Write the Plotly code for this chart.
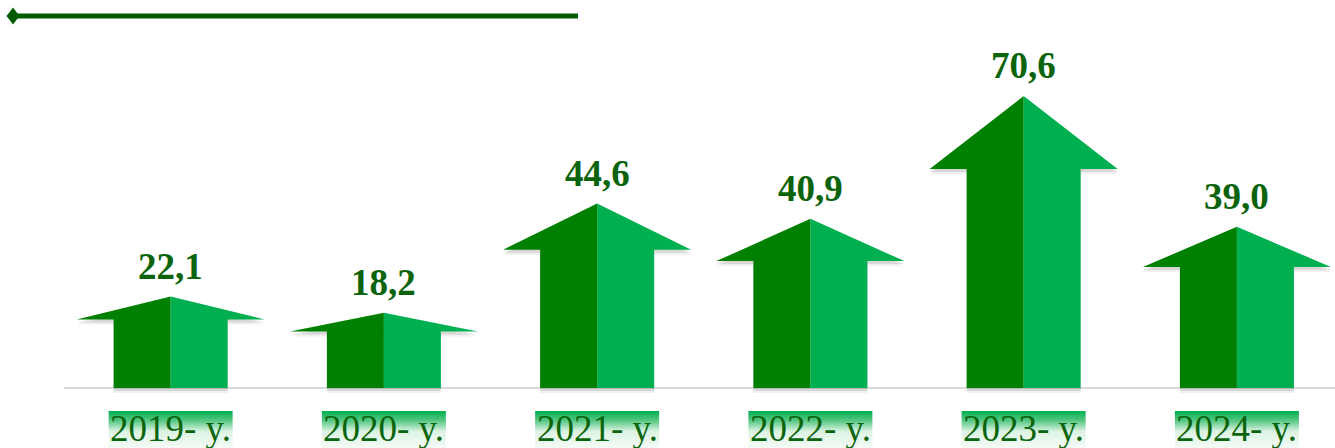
import plotly.graph_objects as go

# ---- data -------------------------------------------------------------
years = ["2019- y.", "2020- y.", "2021- y.", "2022- y.", "2023- y.", "2024- y."]
values = [22.1, 18.2, 44.6, 40.9, 70.6, 39.0]
value_labels = ["22,1", "18,2", "44,6", "40,9", "70,6", "39,0"]

# ---- geometry / style ---------------------------------------------------
W, H = 1335, 448
ML, MT = 64, 40
X_RANGE = [-0.5, 5.46]
Y_RANGE = [-14.51, 84.14]
px_x = (W - ML) / (X_RANGE[1] - X_RANGE[0])   # pixels per category step
px_y = (H - MT) / (Y_RANGE[1] - Y_RANGE[0])   # pixels per value unit

HEAD_HALF = 94 / px_x
SHAFT_HALF = 57 / px_x
HEAD_FRAC = 0.25

DARK = "#008000"
LIGHT = "#00b050"
TEXT_GREEN = "#0b640b"
SERIF = "Liberation Serif, Times New Roman, serif"

fig = go.Figure()


def arrow_outline(c, v, dy=0.0):
    neck = v * (1 - HEAD_FRAC)
    xs = [c - SHAFT_HALF, c - SHAFT_HALF, c - HEAD_HALF, c, c + HEAD_HALF,
          c + SHAFT_HALF, c + SHAFT_HALF, c - SHAFT_HALF]
    ys = [0, neck, neck, v, neck, neck, 0, 0]
    return xs, [y - dy for y in ys]


for i, v in enumerate(values):
    # soft drop shadow
    for off, alpha in ((5, 0.06), (3, 0.10)):
        sx, sy = arrow_outline(i, v, off / px_y)
        fig.add_trace(go.Scatter(x=sx, y=sy, fill="toself", mode="lines",
                                 line=dict(width=0),
                                 fillcolor=f"rgba(0,0,0,{alpha})",
                                 hoverinfo="skip"))
    neck = v * (1 - HEAD_FRAC)
    # left (dark) half
    fig.add_trace(go.Scatter(
        x=[i - SHAFT_HALF, i - SHAFT_HALF, i - HEAD_HALF, i, i, i - SHAFT_HALF],
        y=[0, neck, neck, v, 0, 0],
        fill="toself", mode="lines", line=dict(width=0), fillcolor=DARK,
        hoverinfo="skip"))
    # right (light) half
    fig.add_trace(go.Scatter(
        x=[i, i, i + HEAD_HALF, i + SHAFT_HALF, i + SHAFT_HALF, i],
        y=[0, v, neck, neck, 0, 0],
        fill="toself", mode="lines", line=dict(width=0), fillcolor=LIGHT,
        hoverinfo="skip"))

    # gradient tag behind the year label
    half_w = 62 / px_x
    top = -(411 - 388) / px_y
    bot = Y_RANGE[0]
    fig.add_trace(go.Scatter(
        x=[i - half_w, i + half_w, i + half_w, i - half_w, i - half_w],
        y=[bot, bot, top, top, bot],
        fill="toself", mode="lines", line=dict(width=0),
        fillgradient=dict(type="vertical",
                          colorscale=[[0, "#f4fbf6"], [0.45, "#dcf3e3"],
                                      [0.75, "#52c680"], [1, LIGHT]]),
        hoverinfo="skip"))

annotations = []
for i, (v, lab, yr) in enumerate(zip(values, value_labels, years)):
    annotations.append(dict(
        x=i, y=v, xref="x", yref="y", text=f"<b>{lab}</b>", showarrow=False,
        yanchor="bottom", yshift=8,
        font=dict(family=SERIF, size=37, color=TEXT_GREEN)))
    annotations.append(dict(
        x=i, y=-(429 - 388) / px_y, xref="x", yref="y", text=yr,
        showarrow=False, yanchor="middle",
        font=dict(family=SERIF, size=37, color=TEXT_GREEN)))

# header rule with diamond end
pw, ph = W - ML, H - MT
def to_paper(px, py):
    return (px - ML) / pw, (H - py) / ph

lx0, ly = to_paper(13, 16)
lx1, _ = to_paper(578, 16)
dx, dy = 6.5 / pw, 8.5 / ph
shapes = [
    dict(type="line", xref="paper", yref="paper", x0=lx0, x1=lx1, y0=ly, y1=ly,
         line=dict(color="#005c00", width=5)),
    dict(type="path", xref="paper", yref="paper", fillcolor="#005c00",
         line=dict(width=0),
         path=f"M {lx0 - dx} {ly} L {lx0} {ly + dy} L {lx0 + dx} {ly} "
              f"L {lx0} {ly - dy} Z"),
]

fig.update_layout(
    width=W, height=H, autosize=False,
    margin=dict(l=ML, r=0, t=MT, b=0),
    paper_bgcolor="white", plot_bgcolor="white",
    showlegend=False,
    xaxis=dict(range=X_RANGE, visible=False, fixedrange=True),
    yaxis=dict(range=Y_RANGE, showgrid=False, showticklabels=False,
               zeroline=True, zerolinecolor="#d9d9d9", zerolinewidth=2,
               fixedrange=True),
    annotations=annotations,
    shapes=shapes,
)

fig.write_html("out.html")
